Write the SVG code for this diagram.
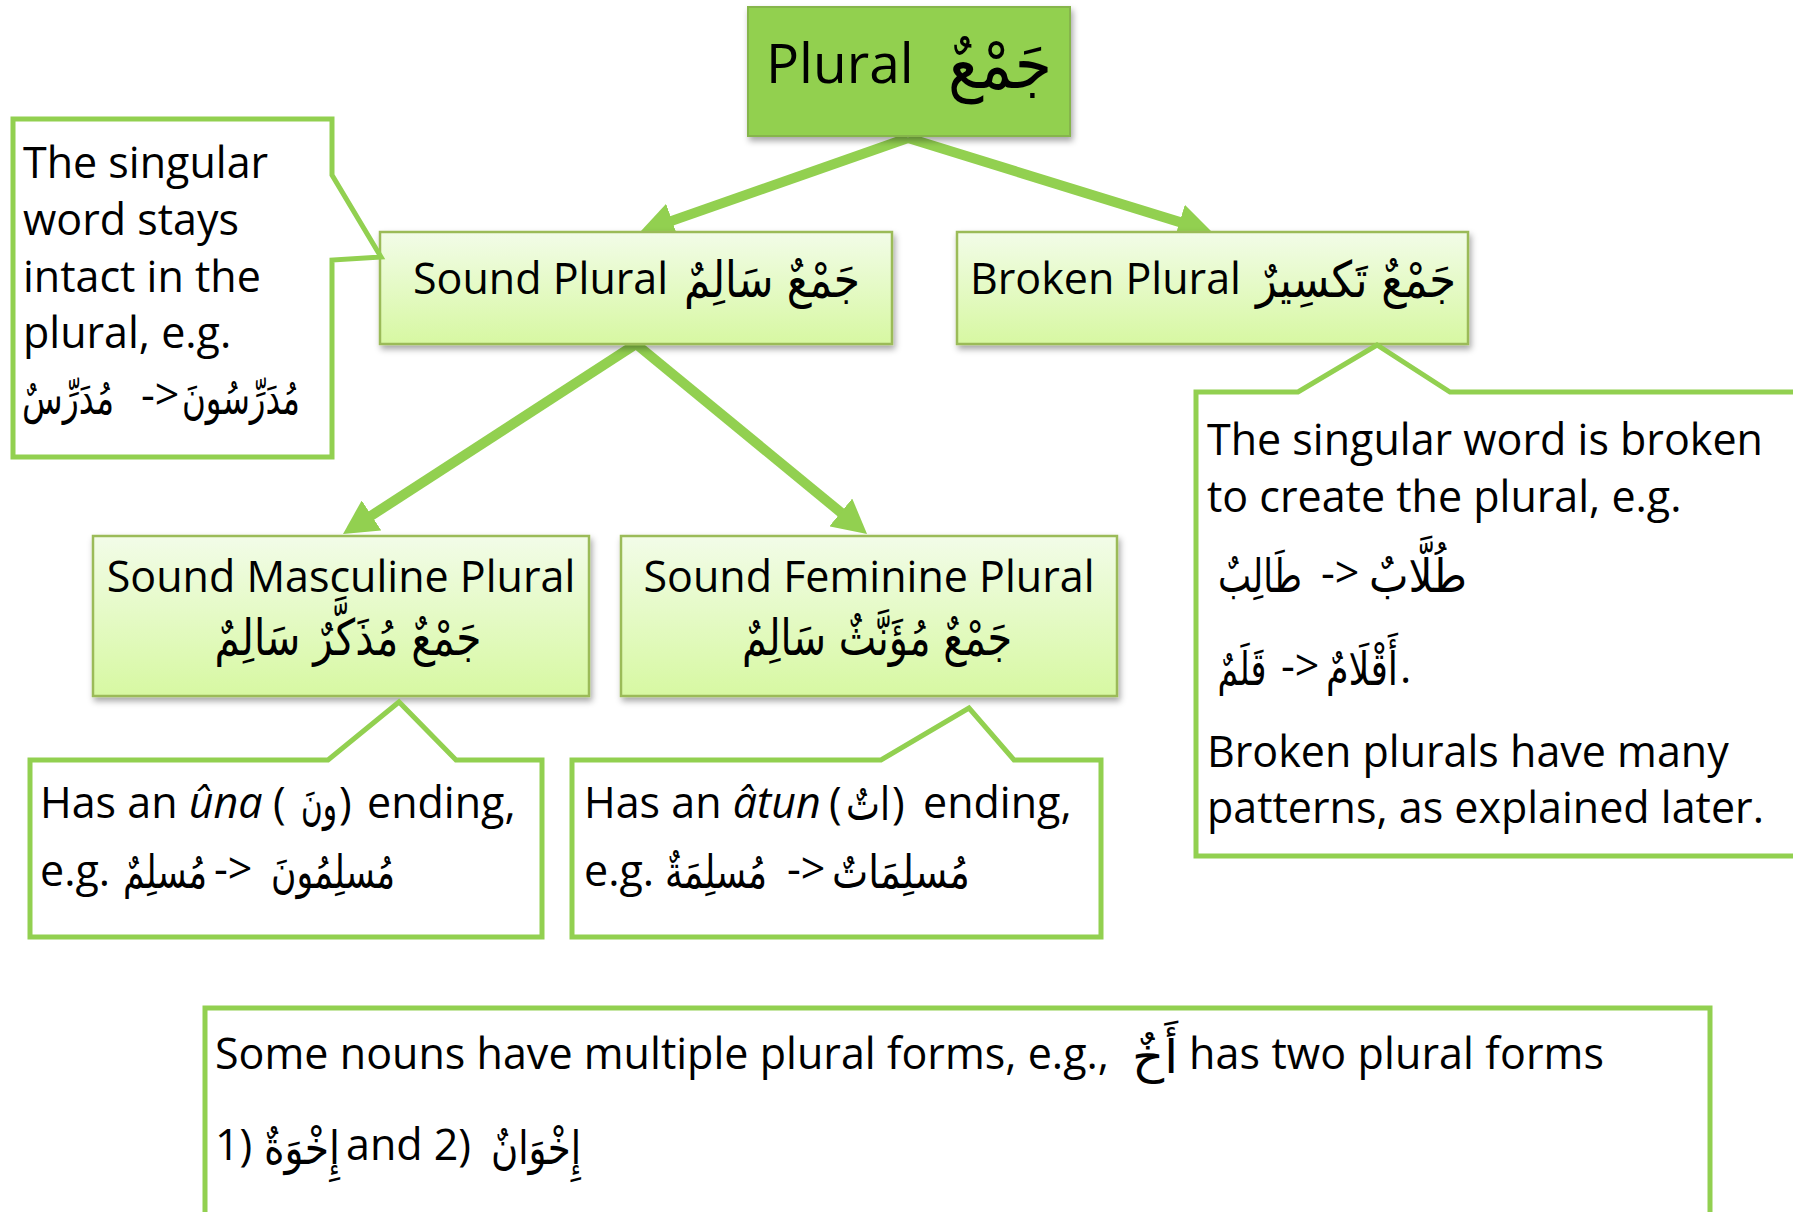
<svg xmlns="http://www.w3.org/2000/svg" width="1793" height="1212" viewBox="0 0 1793 1212">
<defs>
<linearGradient id="g" x1="0" y1="0" x2="0" y2="1">
<stop offset="0" stop-color="#F2FCE8"/>
<stop offset="1" stop-color="#D7F8A2"/>
</linearGradient>
<filter id="sh" x="-10%" y="-10%" width="120%" height="130%">
<feDropShadow dx="2" dy="4" stdDeviation="3" flood-color="#000" flood-opacity="0.35"/>
</filter>
<marker id="ah" markerUnits="userSpaceOnUse" markerWidth="34" markerHeight="36" viewBox="0 0 34 36" refX="14" refY="18" orient="auto">
<path d="M0,0 L34,18 L0,36 z" fill="#92D050"/>
</marker>
<style>
.t{font-family:'Open Sans','DejaVu Sans',sans-serif;font-size:43px;fill:#000}
.i{font-style:italic}
.ar{font-family:'DejaVu Sans',sans-serif;font-size:46px;fill:#000;text-anchor:middle}
.mid{fill:url(#g);stroke:#9BBB59;stroke-width:2.5;filter:url(#sh)}
.co{fill:#fff;stroke:#92D050;stroke-width:5}
.cn{stroke:#92D050;stroke-width:10;fill:none;marker-end:url(#ah)}
</style>
</defs>
<rect width="1793" height="1212" fill="#fff"/>

<g id="connectors">
<line class="cn" x1="908" y1="138" x2="658.9" y2="225.4"/>
<line class="cn" x1="908" y1="138" x2="1192.9" y2="226.1"/>
<line class="cn" x1="636" y1="344" x2="359.8" y2="523.1"/>
<line class="cn" x1="636" y1="344" x2="851.6" y2="521.3"/>
</g>

<g id="plural">
<rect x="748" y="7" width="322" height="129" fill="#92D050" stroke="#86B54B" stroke-width="2" filter="url(#sh)"/>
<text class="t" x="766" y="83" style="font-size:55px">Plural</text>
<text class="ar" x="1000" y="88" textLength="104" lengthAdjust="spacingAndGlyphs" style="font-size:68px">جَمْعٌ</text>
</g>

<g id="sound-plural">
<rect class="mid" x="380" y="232" width="512" height="112"/>
<text class="t" x="413" y="294">Sound Plural</text>
<text class="ar" x="772" y="297" textLength="176" lengthAdjust="spacingAndGlyphs" style="font-size:50px">جَمْعٌ سَالِمٌ</text>
</g>

<g id="broken-plural">
<rect class="mid" x="957" y="232" width="511" height="112"/>
<text class="t" x="970" y="294">Broken Plural</text>
<text class="ar" x="1356" y="297" textLength="200" lengthAdjust="spacingAndGlyphs" style="font-size:50px">جَمْعٌ تَكسِيرٌ</text>
</g>

<g id="sound-masculine">
<rect class="mid" x="93" y="536" width="496" height="160"/>
<text class="t" x="341" y="592" text-anchor="middle">Sound Masculine Plural</text>
<text class="ar" x="348" y="655" textLength="267" lengthAdjust="spacingAndGlyphs" style="font-size:50px">جَمْعٌ مُذَكَّرٌ سَالِمٌ</text>
</g>

<g id="sound-feminine">
<rect class="mid" x="621" y="536" width="496" height="160"/>
<text class="t" x="869" y="592" text-anchor="middle">Sound Feminine Plural</text>
<text class="ar" x="877" y="655" textLength="270" lengthAdjust="spacingAndGlyphs" style="font-size:50px">جَمْعٌ مُؤَنَّثٌ سَالِمٌ</text>
</g>

<g id="note-sound">
<path class="co" d="M13,119 L332,119 L332,175 L381,257 L332,260 L332,457 L13,457 Z"/>
<text class="t" x="23" y="178">The singular</text>
<text class="t" x="23" y="235">word stays</text>
<text class="t" x="23" y="292">intact in the</text>
<text class="t" x="23" y="348">plural, e.g.</text>
<text class="ar" x="68" y="414" textLength="92" lengthAdjust="spacingAndGlyphs">مُدَرِّسٌ</text>
<text class="t" x="141" y="410">-&gt;</text>
<text class="ar" x="241" y="414" textLength="118" lengthAdjust="spacingAndGlyphs">مُدَرِّسُونَ</text>
</g>

<g id="note-masculine">
<path class="co" d="M30,760 L328,760 L399,702 L456,760 L542,760 L542,937 L30,937 Z"/>
<text class="t" x="40" y="818">Has an <tspan class="i">ûna</tspan></text>
<text class="t" x="273" y="818">(</text>
<text class="ar" x="319" y="820" textLength="36" lengthAdjust="spacingAndGlyphs">ونَ</text>
<text class="t" x="339" y="818">)</text>
<text class="t" x="367" y="818">ending,</text>
<text class="t" x="40" y="886">e.g.</text>
<text class="ar" x="165" y="888" textLength="84" lengthAdjust="spacingAndGlyphs">مُسلِمٌ</text>
<text class="t" x="214" y="884">-&gt;</text>
<text class="ar" x="333" y="888" textLength="124" lengthAdjust="spacingAndGlyphs">مُسلِمُونَ</text>
</g>

<g id="note-feminine">
<path class="co" d="M572,760 L881,760 L969,708 L1014,760 L1101,760 L1101,937 L572,937 Z"/>
<text class="t" x="584" y="818">Has an <tspan class="i">âtun</tspan></text>
<text class="t" x="829" y="818">(</text>
<text class="ar" x="868" y="820" textLength="44" lengthAdjust="spacingAndGlyphs">اتٌ</text>
<text class="t" x="892" y="818">)</text>
<text class="t" x="923" y="818">ending,</text>
<text class="t" x="584" y="886">e.g.</text>
<text class="ar" x="716" y="888" textLength="102" lengthAdjust="spacingAndGlyphs">مُسلِمَةٌ</text>
<text class="t" x="787" y="884">-&gt;</text>
<text class="ar" x="901" y="888" textLength="138" lengthAdjust="spacingAndGlyphs">مُسلِمَاتٌ</text>
</g>

<g id="note-broken">
<path class="co" d="M1196,392 L1298,392 L1377,345 L1450,392 L1800,392 L1800,856 L1196,856 Z"/>
<text class="t" x="1207" y="455">The singular word is broken</text>
<text class="t" x="1207" y="512">to create the plural, e.g.</text>
<text class="ar" x="1260" y="592" textLength="84" lengthAdjust="spacingAndGlyphs">طَالِبٌ</text>
<text class="t" x="1321" y="588">-&gt;</text>
<text class="ar" x="1418" y="592" textLength="98" lengthAdjust="spacingAndGlyphs">طُلَّابٌ</text>
<text class="ar" x="1242" y="685" textLength="49" lengthAdjust="spacingAndGlyphs">قَلَمٌ</text>
<text class="t" x="1281" y="681">-&gt;</text>
<text class="ar" x="1362" y="685" textLength="72" lengthAdjust="spacingAndGlyphs">أَقْلَامٌ</text>
<text class="t" x="1400" y="683">.</text>
<text class="t" x="1207" y="767">Broken plurals have many</text>
<text class="t" x="1207" y="823">patterns, as explained later.</text>
</g>

<g id="note-multiple">
<path class="co" d="M205,1008 L1710,1008 L1710,1225 L205,1225 Z"/>
<text class="t" x="215" y="1069" textLength="894" lengthAdjust="spacing">Some nouns have multiple plural forms, e.g.,</text>
<text class="ar" x="1155" y="1073" textLength="46" lengthAdjust="spacingAndGlyphs">أَخٌ</text>
<text class="t" x="1189" y="1069" textLength="415" lengthAdjust="spacing">has two plural forms</text>
<text class="t" x="215" y="1160">1)</text>
<text class="ar" x="302" y="1164" textLength="76" lengthAdjust="spacingAndGlyphs">إِخْوَةٌ</text>
<text class="t" x="346" y="1160">and 2)</text>
<text class="ar" x="536" y="1164" textLength="90" lengthAdjust="spacingAndGlyphs">إِخْوَانٌ</text>
</g>
</svg>
